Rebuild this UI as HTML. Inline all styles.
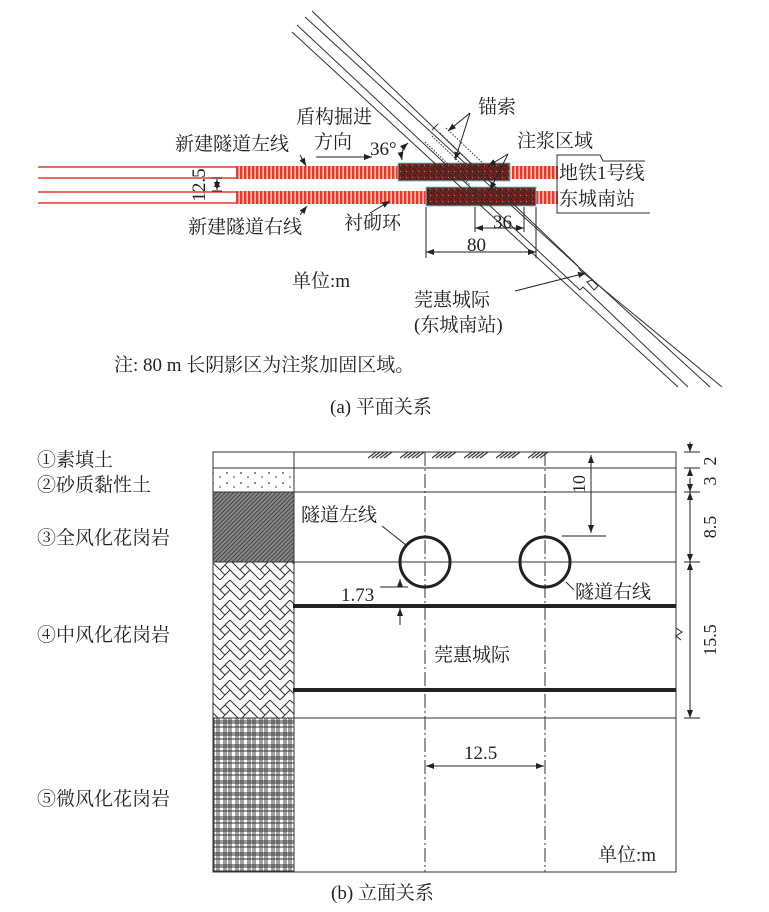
<!DOCTYPE html>
<html><head><meta charset="utf-8"><style>
html,body{margin:0;padding:0;background:#fff;width:769px;height:912px;overflow:hidden}
svg{display:block}
text{font-family:"Liberation Serif","Noto Serif CJK SC","Noto Sans CJK SC",serif;fill:#222}
</style></head><body>
<svg width="769" height="912" viewBox="0 0 769 912" xmlns="http://www.w3.org/2000/svg">
<defs>
<pattern id="ring" width="4" height="10" patternUnits="userSpaceOnUse"><rect width="4" height="10" fill="#fbd0c8"/><rect width="2.4" height="10" fill="#e8392b"/></pattern>
<pattern id="grout" width="6" height="6" patternUnits="userSpaceOnUse"><rect width="6" height="6" fill="#6a2420"/><rect x="1" y="1" width="1" height="1" fill="#111"/><rect x="4" y="3" width="1" height="1" fill="#c08070"/><rect x="2" y="4" width="1" height="1" fill="#111"/><rect x="5" y="0" width="1" height="1" fill="#222"/></pattern>
<pattern id="dots" width="14" height="10" patternUnits="userSpaceOnUse"><circle cx="3" cy="3" r="0.9" fill="#333"/><circle cx="10" cy="7" r="0.8" fill="#333"/></pattern>
<pattern id="hatch" width="3" height="3" patternUnits="userSpaceOnUse" patternTransform="rotate(45)"><rect width="3" height="3" fill="#888"/><rect width="1" height="3" fill="#444"/></pattern>
<pattern id="herr" width="20" height="20" patternUnits="userSpaceOnUse"><path d="M0 10 L10 0 L20 10 M0 20 L10 10 L20 20 M5 5 L10 10 M15 15 L20 20 M5 15 L0 10" stroke="#333" stroke-width="1" fill="none"/></pattern>
<pattern id="cross" width="12" height="12" patternUnits="userSpaceOnUse"><rect width="12" height="12" fill="#fff"/><path d="M0 1H12M0 3H12M0 7H12M1 0V12M3 0V12M8 0V12M10 0V12" stroke="#333" stroke-width="0.9"/></pattern>
<marker id="ar" markerWidth="8" markerHeight="6" refX="8" refY="3" orient="auto" markerUnits="userSpaceOnUse"><path d="M0 0L8 3L0 6z" fill="#222"/></marker>
<marker id="al" markerWidth="8" markerHeight="6" refX="0" refY="3" orient="auto" markerUnits="userSpaceOnUse"><path d="M8 0L0 3L8 6z" fill="#222"/></marker>
</defs>

<g stroke="#e8392b" stroke-width="1.4">
<line x1="38" y1="167" x2="236" y2="167"/><line x1="38" y1="178" x2="236" y2="178"/>
<line x1="38" y1="192" x2="236" y2="192"/><line x1="38" y1="203" x2="236" y2="203"/>
</g>
<rect x="236" y="166" width="322" height="13" fill="url(#ring)"/>
<rect x="236" y="191" width="322" height="13" fill="url(#ring)"/>
<rect x="398" y="163" width="112" height="18" fill="url(#grout)" stroke="#7fc8d8" stroke-width="1"/>
<rect x="426" y="187" width="110" height="19" fill="url(#grout)" stroke="#7fc8d8" stroke-width="1"/>
<path d="M645 161 H603 L600 155 H557 V213 H650" stroke="#333" fill="none" stroke-width="1"/>
<g stroke="#333" stroke-width="1" fill="none">
<line x1="292" y1="32" x2="678" y2="387"/>
<line x1="297" y1="25" x2="580" y2="290"/>
<path d="M580 290 L583 287 L688 387"/>
<line x1="305" y1="17" x2="710" y2="387"/>
<path d="M312 11 L578 266 L580 270 L722 387"/>
<path d="M587 282 L592 280 L598 286 L594 290 Z"/>
<line x1="432" y1="130" x2="438" y2="124"/>
</g>
<g stroke="#333" stroke-width="1" stroke-dasharray="1.5 1.5">
<line x1="425" y1="142" x2="470" y2="185"/><line x1="432" y1="136" x2="478" y2="180"/>
<line x1="440" y1="133" x2="484" y2="176"/><line x1="446" y1="128" x2="490" y2="170"/>
</g>
<g stroke="#222" stroke-width="1" fill="none">
<line x1="217" y1="179" x2="217" y2="190" marker-end="url(#ar)" marker-start="url(#al)"/>
<line x1="212" y1="178" x2="222" y2="178"/><line x1="212" y1="191" x2="222" y2="191"/>
<line x1="316" y1="157" x2="372" y2="157" marker-end="url(#ar)"/>
<path d="M402 160 Q400 150 408 143" marker-start="url(#al)" marker-end="url(#ar)"/>
<line x1="300" y1="155" x2="306" y2="166" marker-end="url(#ar)"/>
<line x1="300" y1="215" x2="307" y2="206" marker-end="url(#ar)"/>
<line x1="370" y1="213" x2="390" y2="201" marker-end="url(#ar)"/>
<line x1="470" y1="113" x2="448" y2="131" marker-end="url(#ar)"/>
<line x1="470" y1="113" x2="455" y2="160" marker-end="url(#ar)"/>
<line x1="508" y1="154" x2="488" y2="166" marker-end="url(#ar)"/>
<line x1="508" y1="154" x2="490" y2="190" marker-end="url(#ar)"/>
<line x1="426" y1="207" x2="426" y2="258"/><line x1="536" y1="207" x2="536" y2="258"/>
<line x1="426" y1="252" x2="536" y2="252" marker-start="url(#al)" marker-end="url(#ar)"/>
<line x1="475" y1="207" x2="475" y2="232"/><line x1="524" y1="207" x2="524" y2="232"/>
<line x1="475" y1="228" x2="524" y2="228" marker-start="url(#al)" marker-end="url(#ar)"/>
<line x1="515" y1="291" x2="586" y2="273" marker-end="url(#ar)"/>
</g>
<g font-size="19">
<text x="296" y="123">盾构掘进</text>
<text x="314" y="148">方向</text>
<text x="175" y="150">新建隧道左线</text>
<text x="370" y="155">36°</text>
<text x="478" y="113">锚索</text>
<text x="517" y="147">注浆区域</text>
<text x="559" y="179">地铁1号线</text>
<text x="559" y="205">东城南站</text>
<text x="188" y="233">新建隧道右线</text>
<text x="344" y="229">衬砌环</text>
<text x="493" y="228">36</text>
<text x="467" y="251">80</text>
<text x="292" y="287">单位:m</text>
<text x="414" y="306">莞惠城际</text>
<text x="414" y="331">(东城南站)</text>
<text x="114" y="371">注: 80 m 长阴影区为注浆加固区域。</text>
<text x="330" y="413">(a) 平面关系</text>
</g>
<text font-size="19" transform="translate(205,185) rotate(-90)" text-anchor="middle">12.5</text>

<rect x="213" y="468" width="81" height="24" fill="url(#dots)"/>
<rect x="213" y="492" width="81" height="70" fill="url(#hatch)"/>
<rect x="213" y="562" width="81" height="156" fill="url(#herr)"/>
<rect x="213" y="718" width="81" height="154" fill="url(#cross)"/>
<g stroke="#333" stroke-width="1" fill="none">
<rect x="213" y="452" width="463" height="420"/>
<line x1="294" y1="452" x2="294" y2="872"/>
<line x1="213" y1="468" x2="676" y2="468"/>
<line x1="213" y1="492" x2="676" y2="492"/>
<line x1="213" y1="562" x2="676" y2="562"/>
<line x1="213" y1="718" x2="676" y2="718"/>
<line x1="425" y1="452" x2="425" y2="872" stroke-dasharray="14 3 2 3"/>
<line x1="545" y1="452" x2="545" y2="872" stroke-dasharray="14 3 2 3"/>
</g>
<g stroke="#333" stroke-width="1.2">
<path d="M368 458 L376 452 M372 458 L380 452 M376 458 L384 452 M380 458 L388 452 M384 458 L392 452 M400 458 L408 452 M404 458 L412 452 M408 458 L416 452 M412 458 L420 452 M416 458 L424 452 M432 458 L440 452 M436 458 L444 452 M440 458 L448 452 M444 458 L452 452 M448 458 L456 452 M464 458 L472 452 M468 458 L476 452 M472 458 L480 452 M476 458 L484 452 M480 458 L488 452 M496 458 L504 452 M500 458 L508 452 M504 458 L512 452 M508 458 L516 452 M512 458 L520 452 M528 458 L536 452 M532 458 L540 452 M536 458 L544 452 M540 458 L548 452"/>
</g>
<line x1="293" y1="606" x2="676" y2="606" stroke="#222" stroke-width="4"/>
<line x1="293" y1="690" x2="676" y2="690" stroke="#222" stroke-width="4"/>
<circle cx="425" cy="562" r="25" fill="none" stroke="#222" stroke-width="3"/>
<circle cx="545" cy="562" r="25" fill="none" stroke="#222" stroke-width="3"/>
<g stroke="#222" stroke-width="1" fill="none">
<line x1="591" y1="455" x2="591" y2="533" marker-start="url(#al)" marker-end="url(#ar)"/>
<line x1="562" y1="536" x2="606" y2="536"/>
<line x1="400" y1="586" x2="400" y2="579" marker-end="url(#ar)"/>
<line x1="400" y1="625" x2="400" y2="608" marker-end="url(#ar)"/>
<line x1="380" y1="587" x2="408" y2="587"/>
<line x1="382" y1="526" x2="406" y2="545"/>
<line x1="566" y1="582" x2="574" y2="590"/>
<line x1="426" y1="766" x2="544" y2="766" marker-start="url(#al)" marker-end="url(#ar)"/>
<line x1="690" y1="442" x2="690" y2="452" marker-end="url(#ar)"/>
<line x1="690" y1="475" x2="690" y2="468" marker-end="url(#ar)"/>
<line x1="690" y1="478" x2="690" y2="492" marker-end="url(#ar)"/>
<line x1="690" y1="492" x2="690" y2="562" marker-start="url(#al)" marker-end="url(#ar)"/>
<line x1="690" y1="562" x2="690" y2="718" marker-start="url(#al)" marker-end="url(#ar)"/>
<line x1="684" y1="452" x2="700" y2="452"/><line x1="684" y1="468" x2="700" y2="468"/>
<line x1="684" y1="492" x2="700" y2="492"/><line x1="684" y1="562" x2="700" y2="562"/>
<line x1="684" y1="718" x2="700" y2="718"/>
<path d="M676 628 L682 632 L676 636 L681 640"/>
</g>
<g font-size="19">
<text x="37" y="466">①素填土</text>
<text x="37" y="491">②砂质黏性土</text>
<text x="37" y="544">③全风化花岗岩</text>
<text x="37" y="641">④中风化花岗岩</text>
<text x="37" y="805">⑤微风化花岗岩</text>
<text x="301" y="521">隧道左线</text>
<text x="575" y="598">隧道右线</text>
<text x="341" y="601">1.73</text>
<text x="434" y="661">莞惠城际</text>
<text x="464" y="759">12.5</text>
<text x="598" y="861">单位:m</text>
<text x="331" y="899">(b) 立面关系</text>
</g>
<g font-size="18">
<text transform="translate(585,484) rotate(-90)" text-anchor="middle">10</text>
<text transform="translate(716,461) rotate(-90)" text-anchor="middle">2</text>
<text transform="translate(716,481) rotate(-90)" text-anchor="middle">3</text>
<text transform="translate(716,527) rotate(-90)" text-anchor="middle">8.5</text>
<text transform="translate(716,640) rotate(-90)" text-anchor="middle">15.5</text>
</g>
</svg>
</body></html>
